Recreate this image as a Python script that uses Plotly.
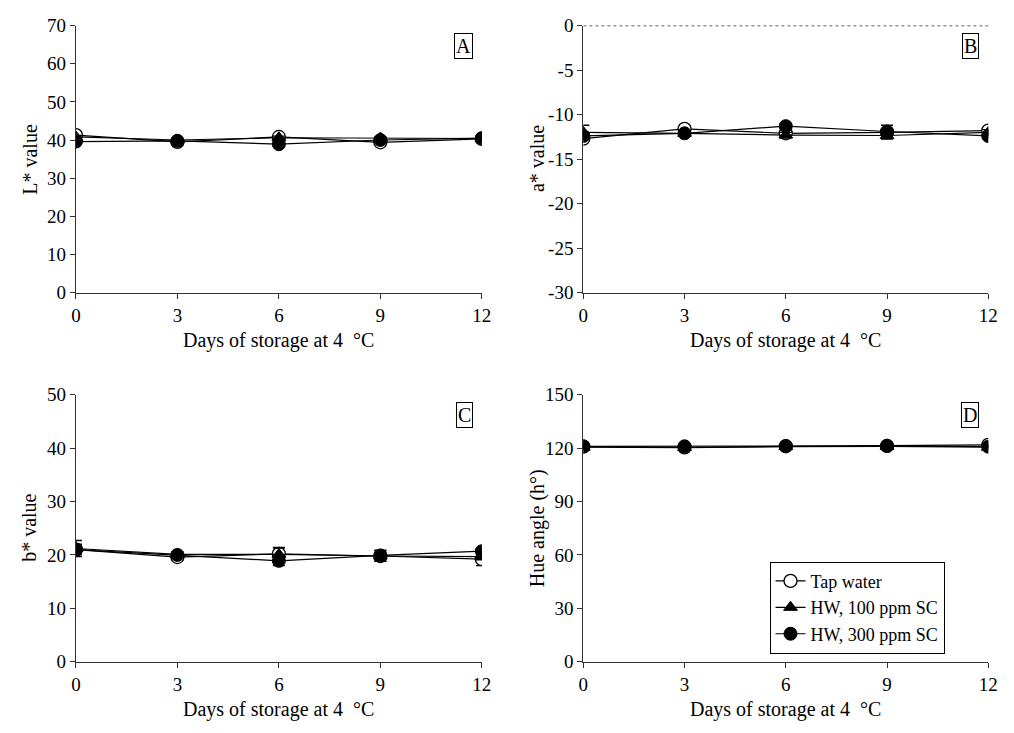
import plotly.graph_objects as go

# Storage days
days = [0, 3, 6, 9, 12]
day_ticks = [0, 3, 6, 9, 12]

series_names = ["Tap water", "HW, 100 ppm SC", "HW, 300 ppm SC"]

# L* value
L_tap = [41.3, 39.5, 40.8, 39.4, 40.3]
L_hw100 = [40.8, 40.0, 40.6, 40.5, 40.4]
L_hw300 = [39.6, 39.8, 38.9, 40.0, 40.5]
L_err_tap = [0.4, 0.4, 0.4, 0.4, 0.4]
L_err_hw100 = [0.4, 0.4, 0.4, 0.4, 0.4]
L_err_hw300 = [0.4, 0.4, 0.5, 0.5, 0.4]

# a* value
a_tap = [-12.7, -11.6, -12.1, -12.0, -11.8]
a_hw100 = [-12.0, -12.1, -12.3, -12.35, -12.0]
a_hw300 = [-12.4, -12.1, -11.3, -11.9, -12.4]
a_err_tap = [0.3, 0.3, 0.3, 0.3, 0.3]
a_err_hw100 = [0.8, 0.3, 0.3, 0.4, 0.3]
a_err_hw300 = [0.3, 0.3, 0.3, 0.7, 0.3]

# b* value
b_tap = [21.0, 19.6, 20.2, 19.8, 19.2]
b_hw100 = [21.2, 20.1, 20.1, 19.8, 19.7]
b_hw300 = [21.0, 20.0, 18.9, 19.9, 20.7]
b_err_tap = [1.0, 0.5, 1.2, 1.0, 1.2]
b_err_hw100 = [1.5, 0.5, 1.2, 1.0, 0.6]
b_err_hw300 = [0.8, 0.5, 0.9, 1.0, 0.5]

# Hue angle
h_tap = [120.8, 120.4, 121.0, 121.2, 121.8]
h_hw100 = [120.5, 120.3, 120.8, 121.0, 120.5]
h_hw300 = [121.0, 121.0, 121.2, 121.3, 120.8]
h_err = [0.6, 0.6, 0.6, 0.6, 0.6]

# y tick values per panel
L_ticks = [0, 10, 20, 30, 40, 50, 60, 70]
a_ticks = [-30, -25, -20, -15, -10, -5, 0]
b_ticks = [0, 10, 20, 30, 40, 50]
h_ticks = [0, 30, 60, 90, 120, 150]

panels = [
    dict(vals=[L_tap, L_hw100, L_hw300], errs=[L_err_tap, L_err_hw100, L_err_hw300],
         yrange=[0, 70], ticks=L_ticks, title="L* value", tag="A"),
    dict(vals=[a_tap, a_hw100, a_hw300], errs=[a_err_tap, a_err_hw100, a_err_hw300],
         yrange=[-30, 0], ticks=a_ticks, title="a* value", tag="B"),
    dict(vals=[b_tap, b_hw100, b_hw300], errs=[b_err_tap, b_err_hw100, b_err_hw300],
         yrange=[0, 50], ticks=b_ticks, title="b* value", tag="C"),
    dict(vals=[h_tap, h_hw100, h_hw300], errs=[h_err, h_err, h_err],
         yrange=[0, 150], ticks=h_ticks, title="Hue angle (h°)", tag="D"),
]

W, H = 1014, 733
x_doms = [[72 / W, 484 / W], [587 / W, 998 / W]]
y_doms = [[1 - 291 / H, 1 - 16 / H], [1 - 671 / H, 1 - 396 / H]]

FONT = "Liberation Serif"
AX = "#333333"
TICKFONT = dict(family=FONT, size=19, color="black")
TITLEFONT = dict(family=FONT, size=20, color="black")
styles = [
    dict(symbol="circle", color="white", line=dict(color="black", width=1.3), size=13),
    dict(symbol="triangle-up", color="black", line=dict(color="black", width=1), size=12),
    dict(symbol="circle", color="black", line=dict(color="black", width=1), size=13),
]

fig = go.Figure()
layout = dict(
    width=W, height=H,
    margin=dict(l=0, r=0, t=0, b=0),
    paper_bgcolor="white", plot_bgcolor="white",
    font=dict(family=FONT, size=18, color="black"),
    showlegend=True,
)
annotations = []
shapes = []

for i, p in enumerate(panels):
    n = i + 1
    xd = x_doms[i % 2]
    yd = y_doms[i // 2]
    xa, ya = f"x{n}", f"y{n}"

    for k in range(3):
        fig.add_trace(go.Scatter(
            x=days, y=p["vals"][k], name=series_names[k],
            mode="lines+markers", xaxis=xa, yaxis=ya,
            line=dict(color="black", width=1.2),
            marker=styles[k],
            error_y=dict(type="data", array=p["errs"][k], color="black",
                         thickness=1.3, width=6),
            showlegend=(i == 3), legendgroup=series_names[k],
        ))

    common_x = dict(range=[0, 12], tickvals=day_ticks, domain=xd,
                    showgrid=False, zeroline=False, linecolor=AX, linewidth=1.2,
                    tickcolor=AX, ticklen=5, tickwidth=1)
    common_y = dict(range=p["yrange"], tickvals=p["ticks"],
                    ticktext=[str(v) for v in p["ticks"]], domain=yd,
                    showgrid=False, zeroline=False, linecolor=AX, linewidth=1.2,
                    tickcolor=AX, ticklen=5, tickwidth=1)

    layout[f"xaxis{n}"] = dict(common_x, anchor=ya, ticks="outside", showline=True,
                               tickfont=TICKFONT)
    layout[f"yaxis{n}"] = dict(common_y, anchor=xa, ticks="outside", showline=True,
                               tickfont=TICKFONT)
    # mirrored frame with inward ticks
    top_line = p["tag"] != "B"
    layout[f"xaxis{n + 4}"] = dict(common_x, anchor=ya, overlaying=xa, side="top",
                                   ticks="inside" if top_line else "", showline=top_line,
                                   showticklabels=False)
    layout[f"yaxis{n + 4}"] = dict(common_y, anchor=xa, overlaying=ya, side="right",
                                   ticks="inside", showline=True, showticklabels=False)

    if not top_line:
        shapes.append(dict(type="line", xref=xa, yref=ya, x0=0, x1=12, y0=0, y1=0,
                           line=dict(color="#333333", width=1.2, dash="dot")))

    # panel tag in a box
    annotations.append(dict(text=p["tag"], xref="paper", yref="paper",
                            x=xd[1] - 9 / W, y=yd[1] - 8 / H,
                            xanchor="right", yanchor="top", showarrow=False,
                            font=dict(size=20, family=FONT, color="black"),
                            bordercolor="black", borderwidth=1, borderpad=1,
                            bgcolor="white"))
    # axis titles
    annotations.append(dict(text=p["title"], xref="paper", yref="paper",
                            x=(xd[0] * W - 47) / W, y=(yd[0] + yd[1]) / 2,
                            xanchor="center", yanchor="middle", textangle=-90,
                            showarrow=False, font=TITLEFONT))
    annotations.append(dict(text="Days of storage at 4\u00a0 °C", xref="paper", yref="paper",
                            x=(xd[0] + xd[1]) / 2, y=yd[0] - 49 / H,
                            xanchor="center", yanchor="middle",
                            showarrow=False, font=TITLEFONT))

layout["annotations"] = annotations
layout["shapes"] = shapes
layout["legend"] = dict(x=776 / W, y=1 - 568 / H, xanchor="left", yanchor="top",
                        bordercolor="black", borderwidth=1, bgcolor="white",
                        font=dict(size=18, family=FONT, color="black"), tracegroupgap=0,
                        itemwidth=30, traceorder="normal")
fig.update_layout(**layout)
fig.write_html("out.html")
